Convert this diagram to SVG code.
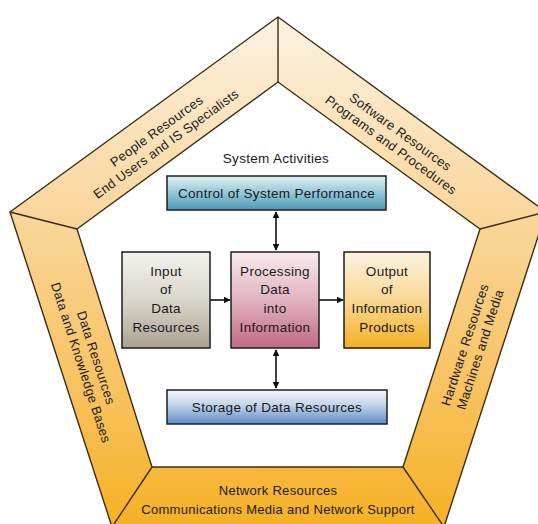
<svg xmlns="http://www.w3.org/2000/svg" width="538" height="524" viewBox="0 0 538 524">
  <defs>
    <linearGradient id="ringFill" gradientUnits="userSpaceOnUse" x1="0" y1="17" x2="0" y2="524">
      <stop offset="0" stop-color="#fdf2e2"/>
      <stop offset="0.35" stop-color="#fad9a2"/>
      <stop offset="0.7" stop-color="#f8c466"/>
      <stop offset="1" stop-color="#f6b126"/>
    </linearGradient>
    <linearGradient id="gControl" x1="0" y1="0" x2="0" y2="1">
      <stop offset="0" stop-color="#e2f1f4"/>
      <stop offset="0.5" stop-color="#93c8d6"/>
      <stop offset="1" stop-color="#4e98b3"/>
    </linearGradient>
    <linearGradient id="gInput" x1="0" y1="0" x2="0" y2="1">
      <stop offset="0" stop-color="#f3f2ee"/>
      <stop offset="0.5" stop-color="#d9d6cc"/>
      <stop offset="1" stop-color="#a9a38f"/>
    </linearGradient>
    <linearGradient id="gProcess" x1="0" y1="0" x2="0" y2="1">
      <stop offset="0" stop-color="#f8eaee"/>
      <stop offset="0.5" stop-color="#e2b3c0"/>
      <stop offset="1" stop-color="#bf6a82"/>
    </linearGradient>
    <linearGradient id="gOutput" x1="0" y1="0" x2="0" y2="1">
      <stop offset="0" stop-color="#fdf3e0"/>
      <stop offset="0.5" stop-color="#f9d794"/>
      <stop offset="1" stop-color="#f4b224"/>
    </linearGradient>
    <linearGradient id="gStorage" x1="0" y1="0" x2="0" y2="1">
      <stop offset="0" stop-color="#f6f7fa"/>
      <stop offset="0.45" stop-color="#c3d3e8"/>
      <stop offset="1" stop-color="#5b8cc7"/>
    </linearGradient>
    <marker id="arrow" viewBox="0 0 10 10" refX="9" refY="5" markerWidth="7" markerHeight="7" markerUnits="userSpaceOnUse" orient="auto-start-reverse">
      <path d="M0,0 L10,5 L0,10 Z" fill="#111"/>
    </marker>
  </defs>
  <style>
    .ring { fill: url(#ringFill); fill-rule: evenodd; stroke: #3b2c14; stroke-width: 1.4; stroke-linejoin: miter; }
    .divider { stroke: #3b2c14; stroke-width: 1.4; fill: none; }
    .box { stroke: #1e1e1e; stroke-width: 1.5; }
    .label { font-family: "Liberation Sans", Arial, sans-serif; fill: #1a1a1a; text-anchor: middle; }
    .band { font-size: 13px; letter-spacing: 0.3px; }
    .boxtext { font-size: 13.5px; letter-spacing: 0.3px; }
    .title { font-size: 13.5px; letter-spacing: 0.3px; }
    .conn { stroke: #111; stroke-width: 1.6; fill: none; }
  </style>

  <rect width="538" height="524" fill="#ffffff"/>

  <!-- Resource ring: outer pentagon with the inner pentagon cut out -->
  <g id="resource-ring">
    <path class="ring" d="M278,17 L546,212 L444,527 L112,527 L10,212 Z M278,82 L77,229 L152,467 L403,467 L480,229 Z"/>
    <line class="divider" x1="278" y1="17" x2="278" y2="82"/>
    <line class="divider" x1="10" y1="212" x2="77" y2="229"/>
    <line class="divider" x1="546" y1="212" x2="480" y2="229"/>
    <line class="divider" x1="112" y1="527" x2="152" y2="467"/>
    <line class="divider" x1="444" y1="527" x2="403" y2="467"/>
  </g>

  <g id="people-resources" transform="translate(161,137) rotate(-36)">
    <text class="label band" x="0" y="-3">People Resources</text>
    <text class="label band" x="0" y="13">End Users and IS Specialists</text>
  </g>
  <g id="software-resources" transform="translate(396,138) rotate(36)">
    <text class="label band" x="0" y="-3">Software Resources</text>
    <text class="label band" x="0" y="13">Programs and Procedures</text>
  </g>
  <g id="data-resources" transform="translate(89,360) rotate(72)">
    <text class="label band" x="0" y="-3">Data Resources</text>
    <text class="label band" x="0" y="13">Data and Knowledge Bases</text>
  </g>
  <g id="hardware-resources" transform="translate(472,347) rotate(-72)">
    <text class="label band" x="0" y="-3">Hardware Resources</text>
    <text class="label band" x="0" y="13">Machines and Media</text>
  </g>
  <g id="network-resources">
    <text class="label band" x="278" y="495">Network Resources</text>
    <text class="label band" x="278" y="514">Communications Media and Network Support</text>
  </g>

  <g id="system-activities">
    <text class="label title" x="276" y="163">System Activities</text>
  </g>

  <g id="control">
    <rect class="box" x="167" y="176" width="219" height="34" fill="url(#gControl)"/>
    <text class="label boxtext" x="276.5" y="198">Control of System Performance</text>
  </g>

  <g id="input">
    <rect class="box" x="122" y="252" width="88" height="96" fill="url(#gInput)"/>
    <text class="label boxtext" x="166" y="276">Input</text>
    <text class="label boxtext" x="166" y="294">of</text>
    <text class="label boxtext" x="166" y="313">Data</text>
    <text class="label boxtext" x="166" y="332">Resources</text>
  </g>

  <g id="processing">
    <rect class="box" x="231" y="252" width="88" height="96" fill="url(#gProcess)"/>
    <text class="label boxtext" x="275" y="276">Processing</text>
    <text class="label boxtext" x="275" y="294">Data</text>
    <text class="label boxtext" x="275" y="313">into</text>
    <text class="label boxtext" x="275" y="332">Information</text>
  </g>

  <g id="output">
    <rect class="box" x="344" y="252" width="86" height="96" fill="url(#gOutput)"/>
    <text class="label boxtext" x="387" y="276">Output</text>
    <text class="label boxtext" x="387" y="294">of</text>
    <text class="label boxtext" x="387" y="313">Information</text>
    <text class="label boxtext" x="387" y="332">Products</text>
  </g>

  <g id="storage">
    <rect class="box" x="167" y="390" width="220" height="34" fill="url(#gStorage)"/>
    <text class="label boxtext" x="277" y="412">Storage of Data Resources</text>
  </g>

  <g id="connectors">
    <line class="conn" x1="276" y1="212" x2="276" y2="250" marker-start="url(#arrow)" marker-end="url(#arrow)"/>
    <line class="conn" x1="276" y1="350" x2="276" y2="388" marker-start="url(#arrow)" marker-end="url(#arrow)"/>
    <line class="conn" x1="210" y1="300" x2="230" y2="300" marker-end="url(#arrow)"/>
    <line class="conn" x1="319" y1="300" x2="343" y2="300" marker-end="url(#arrow)"/>
  </g>
</svg>
